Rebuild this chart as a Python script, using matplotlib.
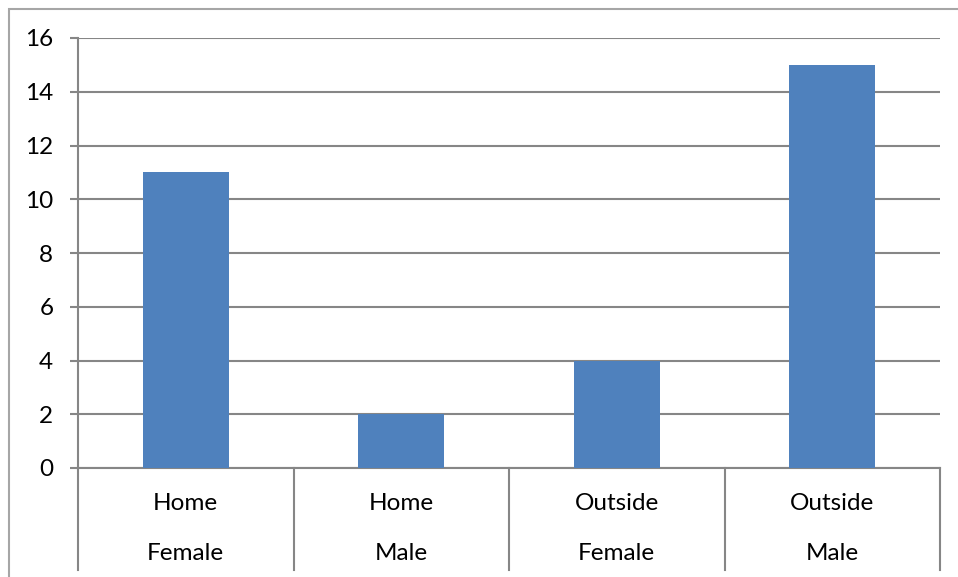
import matplotlib
matplotlib.use('Agg')
import matplotlib.pyplot as plt
from matplotlib.patches import Rectangle
import matplotlib.transforms as mtransforms

plt.rcParams['font.family'] = ['Lato', 'DejaVu Sans']

# counts per location / gender
locations = ['Home', 'Home', 'Outside', 'Outside']
genders = ['Female', 'Male', 'Female', 'Male']
counts = [11, 2, 4, 15]
y_ticks = [0, 2, 4, 6, 8, 10, 12, 14, 16]

bar_color = '#4F81BD'
grid_color = '#868686'
fs = 17.5

fig = plt.figure(figsize=(9.58, 5.77), dpi=100)
ax = fig.add_axes([78 / 958, 1 - 468 / 577, (940 - 78) / 958, (468 - 38) / 577])

x = list(range(len(counts)))
ax.bar(x, counts, width=0.4, color=bar_color, zorder=3)

ax.set_xlim(-0.5, len(counts) - 0.5)
ax.set_ylim(0, 16)
ax.set_yticks(y_ticks)
ax.set_yticklabels([str(t) for t in y_ticks], fontsize=fs)
ax.tick_params(axis='y', length=5.8, width=1.5, color=grid_color, pad=12)
ax.set_xticks([])
ax.yaxis.grid(True, color=grid_color, linewidth=1.5, zorder=0)

for side in ['top', 'right']:
    ax.spines[side].set_visible(False)
ax.spines['left'].set_color(grid_color)
ax.spines['left'].set_linewidth(1.5)
ax.spines['bottom'].set_color(grid_color)
ax.spines['bottom'].set_linewidth(1.5)

# category boxes below the axis
trans = mtransforms.blended_transform_factory(ax.transData, ax.transAxes)
cell_bottom = -(570 - 468) / 430
for i in range(len(counts) + 1):
    ax.plot([i - 0.5, i - 0.5], [0, cell_bottom], transform=trans,
            color=grid_color, linewidth=1.5, clip_on=False)

for i, (loc, g) in enumerate(zip(locations, genders)):
    ax.text(i, -(503 - 468) / 430, loc, transform=trans, ha='center', va='center', fontsize=fs)
    ax.text(i, -(553 - 468) / 430, g, transform=trans, ha='center', va='center', fontsize=fs)

# chart border
fig.patches.append(Rectangle((9 / 958, -0.1), 1.2, 1 - 9 / 577 + 0.1, transform=fig.transFigure,
                             fill=False, edgecolor='#A6A6A6', linewidth=1.5))

fig.savefig('out.png', dpi=100)
